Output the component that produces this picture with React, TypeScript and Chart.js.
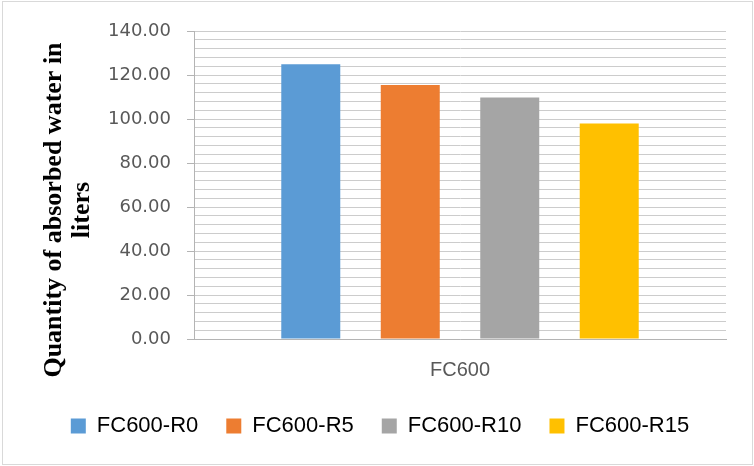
import React, { useEffect, useRef } from "react";
import { Chart, registerables } from "chart.js";

Chart.register(...registerables);

// Water absorbed by each FC600 mix
const categories = ["FC600"];
const seriesNames = ["FC600-R0", "FC600-R5", "FC600-R10", "FC600-R15"];
const seriesValues = [124.9, 115.4, 109.8, 98.0];
const seriesColors = ["#5b9bd5", "#ed7d31", "#a5a5a5", "#ffc000"];

// Value axis: labelled every 20, ruled every 4
const yMin = 0;
const yMax = 140;
const yGridStep = 4;
const yLabelStep = 20;

const yTitleLines = ["Quantity of absorbed water in", "liters"];

const WIDTH = 754;
const HEIGHT = 466;

// Two-line rotated axis title, drawn in bold serif beside the value axis
const yTitlePlugin = {
  id: "yTitle",
  afterDraw(chart: any) {
    const ctx = chart.ctx;
    ctx.save();
    ctx.fillStyle = "#000000";
    ctx.font = 'bold 26px "Liberation Serif"';
    ctx.textAlign = "center";
    ctx.textBaseline = "alphabetic";
    ctx.translate(61, 210);
    ctx.rotate(-Math.PI / 2);
    yTitleLines.forEach((line, i) => ctx.fillText(line, 0, i * 28));
    ctx.restore();
  },
};

export default function App() {
  const canvasRef = useRef<HTMLCanvasElement | null>(null);

  useEffect(() => {
    if (!canvasRef.current) return;
    const datasets = seriesNames.map((name, i) => ({
      label: name,
      data: [seriesValues[i]],
      backgroundColor: seriesColors[i],
      borderWidth: 0,
      categoryPercentage: 0.748,
      barPercentage: 0.593,
    }));

    const chart = new Chart(canvasRef.current, {
      type: "bar",
      data: { labels: categories, datasets },
      plugins: [yTitlePlugin],
      options: {
        responsive: false,
        animation: false,
        devicePixelRatio: 1,
        layout: { padding: { left: 34, right: 28, top: 31, bottom: 19 } },
        plugins: {
          tooltip: { enabled: false },
          legend: {
            position: "bottom",
            labels: {
              boxWidth: 15,
              boxHeight: 15,
              padding: 28,
              color: "#000000",
              font: { family: '"Liberation Sans"', size: 22 },
            },
          },
        },
        scales: {
          x: {
            offset: true,
            grid: { display: false, drawTicks: false },
            border: { display: true, color: "#b4b4b4", width: 1 },
            ticks: {
              color: "#595959",
              padding: 19,
              font: { family: '"Liberation Sans"', size: 20 },
            },
            afterFit: (scale: any) => {
              scale.height = 48;
            },
          },
          y: {
            min: yMin,
            max: yMax,
            grid: {
              color: "#cccccc",
              lineWidth: 1,
              drawTicks: true,
              tickLength: 7,
              tickColor: (ctx: any) =>
                ctx.tick && ctx.tick.value % yLabelStep === 0 ? "#b4b4b4" : "rgba(0,0,0,0)",
            },
            border: { display: true, color: "#b4b4b4", width: 1 },
            ticks: {
              stepSize: yGridStep,
              autoSkip: false,
              padding: 16,
              color: "#595959",
              font: { family: '"DejaVu Sans"', size: 18 },
              callback: (value: any) =>
                Number(value) % yLabelStep === 0 ? Number(value).toFixed(2) : "",
            },
            afterFit: (scale: any) => {
              scale.width = 160;
            },
          },
        },
      },
    });
    return () => chart.destroy();
  }, []);

  return (
    <div
      style={{
        position: "absolute",
        left: 0,
        top: 0,
        width: WIDTH,
        height: HEIGHT,
        background: "#ffffff",
      }}
    >
      <canvas ref={canvasRef} width={WIDTH} height={HEIGHT} style={{ display: "block" }} />
      <div
        style={{
          position: "absolute",
          left: 2,
          top: 1,
          width: 751,
          height: 464,
          boxSizing: "border-box",
          border: "1px solid #d9d9d9",
          pointerEvents: "none",
        }}
      />
    </div>
  );
}
